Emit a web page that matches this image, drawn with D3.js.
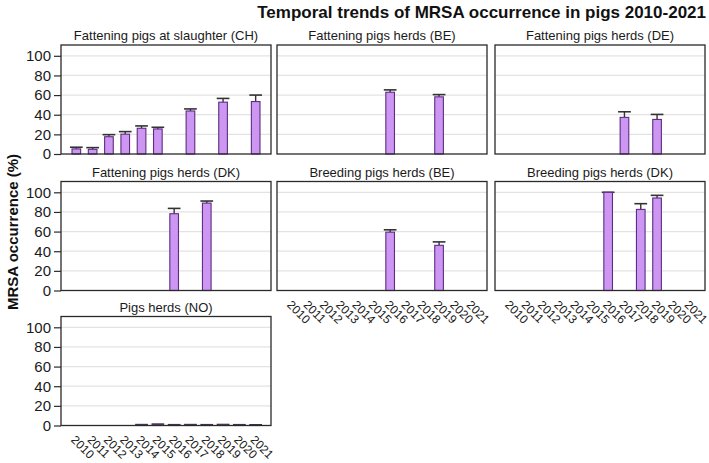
<!DOCTYPE html>
<html>
<head>
<meta charset="utf-8">
<script src="https://cdn.jsdelivr.net/npm/d3@7"></script>
<style>
  html, body { margin: 0; padding: 0; background: #fff; }
  svg { display: block; font-family: "Liberation Sans", Arial, sans-serif; }
</style>
</head>
<body>
<svg id="chart" width="709" height="463"></svg>
<script>
// ---- data ----
const years = ["2010","2011","2012","2013","2014","2015","2016","2017","2018","2019","2020","2021"];
const yTicks = [0, 20, 40, 60, 80, 100];
const panelTitles = [
  "Fattening pigs at slaughter (CH)",
  "Fattening pigs herds (BE)",
  "Fattening pigs herds (DE)",
  "Fattening pigs herds (DK)",
  "Breeding pigs herds (BE)",
  "Breeding pigs herds (DK)",
  "Pigs herds (NO)"
];
// values (%) per year, null = no data
const chValues    = [5.2, 4.8, 17.6, 20.2, 26.2, 25.5, null, 43.8, null, 52.8, null, 53.4];
const chUpper     = [6.9, 6.5, 19.7, 22.8, 28.6, 27.2, null, 45.9, null, 56.6, null, 60.0];
const beFatValues = [null, null, null, null, null, null, 62.9, null, null, 58.2, null, null];
const beFatUpper  = [null, null, null, null, null, null, 65.3, null, null, 60.5, null, null];
const deFatValues = [null, null, null, null, null, null, null, 37.3, null, 35.2, null, null];
const deFatUpper  = [null, null, null, null, null, null, null, 43.0, null, 40.3, null, null];
const dkFatValues = [null, null, null, null, null, null, 78.2, null, 89.0, null, null, null];
const dkFatUpper  = [null, null, null, null, null, null, 83.6, null, 91.1, null, null, null];
const beBrValues  = [null, null, null, null, null, null, 59.4, null, null, 46.0, null, null];
const beBrUpper   = [null, null, null, null, null, null, 61.8, null, null, 49.5, null, null];
const dkBrValues  = [null, null, null, null, null, null, 100, null, 82.6, 94.2, null, null];
const dkBrUpper   = [null, null, null, null, null, null, 100, null, 88.4, 96.9, null, null];
const noValues    = [null, null, null, null, 0.5, 1.0, 0.4, 0.5, 0.4, 0.6, 0.4, 0.3];
const noUpper     = [null, null, null, null, 0.9, 1.4, 0.8, 0.9, 0.8, 1.0, 0.8, 0.7];

const panelValues = [chValues, beFatValues, deFatValues, dkFatValues, beBrValues, dkBrValues, noValues];
const panelUpper  = [chUpper, beFatUpper, deFatUpper, dkFatUpper, beBrUpper, dkBrUpper, noUpper];

// ---- layout ----
const colLeft = [61, 277, 495];
const rowTop = [45, 181.5, 316.5];
const pw = 210, ph = 109;
const showXLabels = [false, false, false, false, true, true, true];

const svg = d3.select("#chart");

const x = d3.scaleBand().domain(years).range([0, pw]).paddingInner(0).paddingOuter(0.44);
const y = d3.scaleLinear().domain([0, 111]).range([ph, 0]);
const barW = x.bandwidth() * 0.53;
const capW = x.bandwidth() * 0.78;

// main title
svg.append("text")
  .attr("x", 706).attr("y", 18)
  .attr("text-anchor", "end")
  .attr("font-size", 17).attr("font-weight", "bold").attr("fill", "#111")
  .text("Temporal trends of MRSA occurrence in pigs 2010-2021");

// y-axis label
svg.append("text")
  .attr("transform", "translate(18,232) rotate(-90)")
  .attr("text-anchor", "middle")
  .attr("font-size", 15).attr("font-weight", "bold").attr("fill", "#111")
  .text("MRSA occurrence (%)");

panelTitles.forEach((title, i) => {
  const col = i % 3, row = Math.floor(i / 3);
  const g = svg.append("g").attr("transform", `translate(${colLeft[col]},${rowTop[row]})`);

  // panel title
  g.append("text")
    .attr("x", pw / 2).attr("y", -5)
    .attr("text-anchor", "middle")
    .attr("font-size", 13).attr("fill", "#1a1a1a")
    .text(title);

  // gridlines
  g.selectAll("line.grid").data(yTicks.filter(t => t > 0)).enter().append("line")
    .attr("class", "grid")
    .attr("x1", 0).attr("x2", pw)
    .attr("y1", d => y(d)).attr("y2", d => y(d))
    .attr("stroke", "#e3e3e3").attr("stroke-width", 1.3);

  const vals = panelValues[i], ups = panelUpper[i];
  const data = years.map((yr, k) => ({ yr, v: vals[k], u: ups[k] })).filter(d => d.v !== null);

  // error bars (upper part)
  data.forEach(d => {
    const cx = x(d.yr) + x.bandwidth() / 2;
    g.append("line")
      .attr("x1", cx).attr("x2", cx)
      .attr("y1", y(d.v)).attr("y2", y(d.u))
      .attr("stroke", "#333").attr("stroke-width", 1.4);
    g.append("line")
      .attr("x1", cx - capW / 2).attr("x2", cx + capW / 2)
      .attr("y1", y(d.u)).attr("y2", y(d.u))
      .attr("stroke", "#333").attr("stroke-width", 1.6);
  });

  // bars
  g.selectAll("rect.bar").data(data).enter().append("rect")
    .attr("class", "bar")
    .attr("x", d => x(d.yr) + (x.bandwidth() - barW) / 2)
    .attr("width", barW)
    .attr("y", d => y(d.v))
    .attr("height", d => ph - y(d.v))
    .attr("fill", "#cd96f2")
    .attr("stroke", "#5c2d80").attr("stroke-width", 1.1);

  // frame
  g.append("rect")
    .attr("x", 0).attr("y", 0).attr("width", pw).attr("height", ph)
    .attr("fill", "none").attr("stroke", "#2a2a2a").attr("stroke-width", 1.3);

  // y axis (left column)
  if (col === 0) {
    const ya = g.append("g").call(d3.axisLeft(y).tickValues(yTicks).tickSize(7).tickPadding(3));
    ya.select(".domain").remove();
    ya.selectAll("line").attr("stroke", "#2a2a2a").attr("stroke-width", 1.2);
    ya.selectAll("text").attr("font-size", 15).attr("fill", "#1a1a1a")
      .attr("font-family", "'Liberation Sans', Arial, sans-serif");
  }

  // x labels (bottom panel of each column)
  if (showXLabels[i]) {
    g.selectAll("text.xl").data(years).enter().append("text")
      .attr("class", "xl")
      .attr("transform", d => `translate(${x(d) + x.bandwidth() / 2 - 6},${ph + 15}) rotate(45)`)
      .attr("font-size", 12).attr("fill", "#1a1a1a")
      .text(d => d);
  }
});
</script>
</body>
</html>
